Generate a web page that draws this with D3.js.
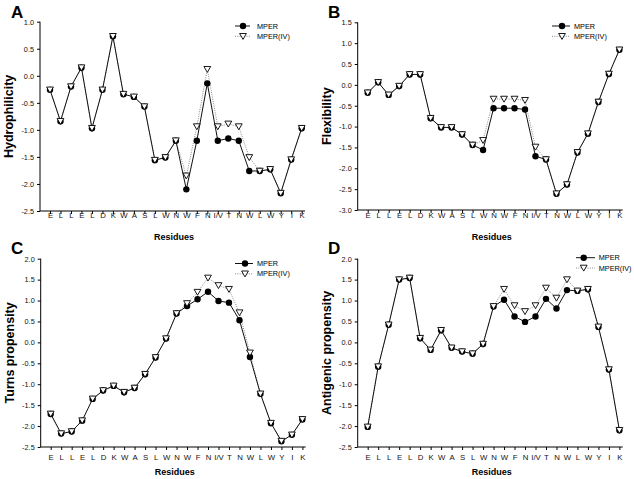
<!DOCTYPE html>
<html><head><meta charset="utf-8">
<script src="https://cdn.jsdelivr.net/npm/d3@7"></script>
<style>body{margin:0;background:#fff}svg{display:block}text{font-family:"Liberation Sans",Arial,sans-serif;font-style:normal}</style>
</head><body>
<svg id="c" width="634" height="479"></svg>
<script>
const residues = ["E","L","L","E","L","D","K","W","A","S","L","W","N","W","F","N","I/V","T","N","W","L","W","Y","I","K"];
const seriesNames = ["MPER","MPER(IV)"];

const hydroMPER = [-0.26,-0.84,-0.20,0.15,-0.97,-0.26,0.73,-0.34,-0.39,-0.57,-1.56,-1.51,-1.20,-2.10,-1.20,-0.14,-1.20,-1.16,-1.20,-1.76,-1.76,-1.73,-2.17,-1.55,-0.97];
const hydroIV   = [-0.26,-0.84,-0.20,0.15,-0.97,-0.26,0.73,-0.34,-0.39,-0.57,-1.56,-1.51,-1.20,-1.85,-0.94,0.12,-0.94,-0.89,-0.94,-1.51,-1.76,-1.73,-2.17,-1.55,-0.97];
const hydroTicks = [1.0,0.5,0.0,-0.5,-1.0,-1.5,-2.0,-2.5];

const flexMPER = [-0.19,0.06,-0.24,-0.03,0.25,0.25,-0.80,-1.02,-1.02,-1.19,-1.44,-1.56,-0.56,-0.56,-0.56,-0.59,-1.71,-1.79,-2.61,-2.39,-1.62,-1.17,-0.41,0.26,0.84];
const flexIV   = [-0.19,0.06,-0.24,-0.03,0.25,0.25,-0.80,-1.02,-1.02,-1.19,-1.44,-1.33,-0.34,-0.34,-0.34,-0.37,-1.49,-1.79,-2.61,-2.39,-1.62,-1.17,-0.41,0.26,0.84];
const flexTicks = [1.5,1.0,0.5,0.0,-0.5,-1.0,-1.5,-2.0,-2.5,-3.0];

const turnsMPER = [-1.71,-2.18,-2.13,-1.87,-1.35,-1.15,-1.04,-1.19,-1.09,-0.76,-0.36,0.09,0.69,0.87,1.03,1.21,0.99,0.95,0.53,-0.35,-1.23,-1.93,-2.36,-2.21,-1.84];
const turnsIV   = [-1.71,-2.18,-2.13,-1.87,-1.35,-1.15,-1.04,-1.19,-1.09,-0.76,-0.36,0.09,0.69,0.93,1.20,1.54,1.36,1.27,0.71,-0.25,-1.23,-1.93,-2.36,-2.21,-1.84];
const turnsTicks = [2.0,1.5,1.0,0.5,0.0,-0.5,-1.0,-1.5,-2.0,-2.5];

const antiMPER = [-2.02,-0.58,0.42,1.50,1.54,0.10,-0.18,0.29,-0.13,-0.22,-0.27,-0.04,0.86,1.02,0.62,0.49,0.62,1.04,0.81,1.25,1.23,1.27,0.37,-0.65,-2.10];
const antiIV   = [-2.02,-0.58,0.42,1.50,1.54,0.10,-0.18,0.29,-0.13,-0.22,-0.27,-0.04,0.86,1.27,0.88,0.74,0.88,1.30,1.06,1.50,1.23,1.27,0.37,-0.65,-2.10];
const antiTicks = [2.0,1.5,1.0,0.5,0.0,-0.5,-1.0,-1.5,-2.0,-2.5];

const panels = [
  {letter:"A", ylabel:"Hydrophilicity", a:hydroMPER, b:hydroIV, ticks:hydroTicks, dom:[-2.5,1.0],
   ox:0, x0:40, y0:211, y1:21.7, xlab:218, rlab:240, letterY:18, leg:{x1:235,x2:250,m:243,t:257,y:26}},
  {letter:"B", ylabel:"Flexibility", a:flexMPER, b:flexIV, ticks:flexTicks, dom:[-3.0,1.5],
   ox:317, x0:40.7, y0:210, y1:22.3, xlab:218, rlab:240, letterY:18, leg:{x1:235,x2:253,m:245,t:257,y:26}},
  {letter:"C", ylabel:"Turns propensity", a:turnsMPER, b:turnsIV, ticks:turnsTicks, dom:[-2.5,2.0],
   ox:0, x0:40.7, y0:447, y1:258.7, xlab:459.5, rlab:475, letterY:254, leg:{x1:235,x2:253,m:245,t:257,y:263.5}},
  {letter:"D", ylabel:"Antigenic propensity", a:antiMPER, b:antiIV, ticks:antiTicks, dom:[-2.5,2.0],
   ox:317, x0:40.7, y0:447, y1:258.7, xlab:459.5, rlab:475, letterY:254, leg:{x1:259,x2:278,m:266.7,t:281.7,y:257.7}}
];

const svg = d3.select("#c");
const tri = "M-3.4,-2.5L3.4,-2.5L0,3.4Z";

panels.forEach(p => {
  const g = svg.append("g").attr("transform", `translate(${p.ox},0)`);
  const x = d3.scalePoint().domain(d3.range(residues.length)).range([p.x0+10, p.x0+261.7]);
  const y = d3.scaleLinear().domain(p.dom).range([p.y0, p.y1]);

  // y axis
  const ya = d3.axisLeft(y).tickValues(p.ticks).tickFormat(d => d.toFixed(1)).tickSize(3).tickPadding(3);
  const yg = g.append("g").attr("transform", `translate(${p.x0},0)`).call(ya);
  yg.select(".domain").attr("d", `M0,${p.y1}V${p.y0}`).attr("stroke","#000");
  yg.selectAll("text").attr("font-size", 7.3).attr("fill","#111");
  yg.selectAll("line").attr("stroke","#000");

  // x axis
  const xa = d3.axisBottom(x).tickFormat(i => residues[i]).tickSize(3).tickPadding(3);
  const xg = g.append("g").attr("transform", `translate(0,${p.y0})`).call(xa);
  xg.select(".domain").attr("d", `M${p.x0},0H${p.x0+265}`).attr("stroke","#000");
  xg.selectAll("text").attr("font-size", 7.8).attr("fill","#111").attr("dy", null)
    .attr("y", Math.round(p.xlab - p.y0));
  xg.selectAll("line").attr("stroke","#000");

  // labels
  g.append("text").attr("x", p.x0+134).attr("y", p.rlab).attr("text-anchor","middle")
    .attr("font-size", 9).attr("font-weight","bold").text("Residues");
  g.append("text").attr("transform", `translate(${p.x0-27},${(p.y0+p.y1)/2}) rotate(-90)`)
    .attr("text-anchor","middle").attr("font-size", 12.5).attr("font-weight","bold").text(p.ylabel);
  g.append("text").attr("x", 11).attr("y", p.letterY).attr("font-size", 17).attr("font-weight","bold").text(p.letter);

  const line = d3.line().x((d,i)=>x(i)).y(d=>y(d));
  g.append("path").attr("d", line(p.b)).attr("fill","none").attr("stroke","#8a8a8a").attr("stroke-width",1).attr("stroke-dasharray","1,1.3");
  g.append("path").attr("d", line(p.a)).attr("fill","none").attr("stroke","#111").attr("stroke-width",1);
  g.selectAll("circle.m").data(p.a).join("circle").attr("class","m")
    .attr("cx",(d,i)=>x(i)).attr("cy",d=>y(d)).attr("r",3.2).attr("fill","#000");
  g.selectAll("path.t").data(p.b).join("path").attr("class","t")
    .attr("transform",(d,i)=>`translate(${x(i)},${y(d)-0.3})`).attr("d",tri)
    .attr("fill","#fff").attr("stroke","#000").attr("stroke-width",0.9);

  // legend
  const L = p.leg;
  g.append("line").attr("x1",L.x1).attr("x2",L.x2).attr("y1",L.y).attr("y2",L.y).attr("stroke","#111");
  g.append("circle").attr("cx",L.m).attr("cy",L.y).attr("r",3.2).attr("fill","#000");
  g.append("text").attr("x",L.t).attr("y",L.y+2.6).attr("font-size",7.3).text(seriesNames[0]);
  g.append("line").attr("x1",L.x1).attr("x2",L.x2).attr("y1",L.y+10.3).attr("y2",L.y+10.3)
    .attr("stroke","#8a8a8a").attr("stroke-dasharray","1,1.3");
  g.append("path").attr("transform",`translate(${L.m},${L.y+10})`).attr("d",tri)
    .attr("fill","#fff").attr("stroke","#000").attr("stroke-width",0.9);
  g.append("text").attr("x",L.t).attr("y",L.y+12.9).attr("font-size",7.3).text(seriesNames[1]);
});
</script>
</body></html>
